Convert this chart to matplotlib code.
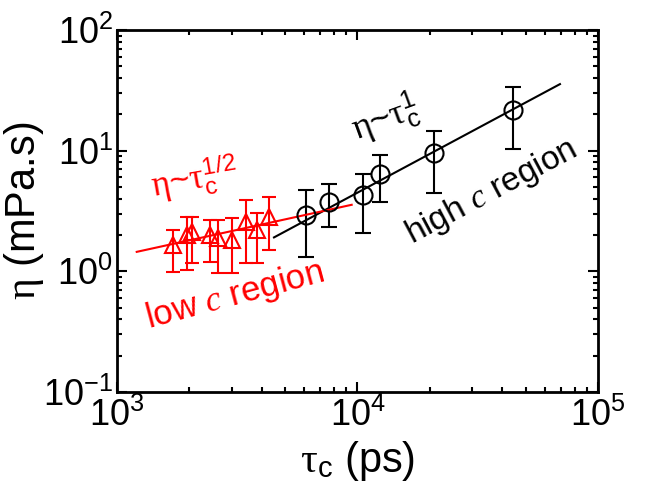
import math
import matplotlib
matplotlib.use("Agg")
import matplotlib.pyplot as plt
from matplotlib import ticker

plt.rcParams["font.family"] = ["Liberation Sans", "DejaVu Sans"]
plt.rcParams["mathtext.fontset"] = "custom"
plt.rcParams["mathtext.rm"] = "Liberation Serif"
plt.rcParams["mathtext.it"] = "Liberation Serif:italic"
plt.rcParams["mathtext.bf"] = "Liberation Serif:bold"

# ---- low c region (red triangles) ----
tau_low = [1704, 1949, 2045, 2436, 2623, 2999, 3439, 3832, 4298]
eta_low = [1.65, 2.00, 2.13, 2.00, 1.88, 1.82, 2.58, 2.20, 2.84]
eta_low_hi = [2.20, 2.84, 2.84, 2.66, 2.66, 2.75, 3.90, 3.02, 4.10]
eta_low_lo = [0.99, 1.03, 1.18, 1.20, 0.96, 0.97, 1.18, 1.18, 1.50]

# ---- high c region (black circles) ----
tau_high = [6108, 7612, 10571, 12406, 20800, 44440]
eta_high = [2.93, 3.77, 4.29, 6.40, 9.61, 21.7]
eta_high_hi = [4.72, 5.29, 6.40, 9.19, 14.6, 33.5]
eta_high_lo = [1.31, 2.31, 2.09, 3.73, 4.43, 10.25]

# ---- power law guide lines ----
fit_low_x = [1208, 9460]
fit_low_y = [1.45, 3.56]
fit_high_x = [4496, 69500]
fit_high_y = [1.91, 35.6]

fig = plt.figure(figsize=(6.67, 4.95), dpi=100)
ax = fig.add_axes([0.1754, 0.2081, 0.7211, 0.7313])


def errs(y, lo, hi):
    return [[a - b for a, b in zip(y, lo)], [b - a for a, b in zip(y, hi)]]


ax.plot(fit_high_x, fit_high_y, color="black", lw=1.5)
ax.errorbar(tau_high, eta_high, yerr=errs(eta_high, eta_high_lo, eta_high_hi),
            fmt="o", ms=13, mfc="none", mec="black", mew=1.5, color="black",
            ecolor="black", elinewidth=1.5, capsize=6, capthick=1.5)

ax.plot(fit_low_x, fit_low_y, color="red", lw=1.5)
ax.errorbar(tau_low, eta_low, yerr=errs(eta_low, eta_low_lo, eta_low_hi),
            fmt="^", ms=11, mfc="none", mec="red", mew=1.5, color="red",
            ecolor="red", elinewidth=1.5, capsize=5, capthick=1.5)

ax.set_xscale("log")
ax.set_yscale("log")
ax.set_xlim(1e3, 1e5)
ax.set_ylim(1e-1, 1e2)

fmt = ticker.FuncFormatter(lambda v, p: r"$\mathregular{10^{%d}}$" % round(math.log10(v)))
for axis in (ax.xaxis, ax.yaxis):
    axis.set_major_locator(ticker.LogLocator(base=10, numticks=10))
    axis.set_minor_locator(ticker.LogLocator(base=10, subs=range(2, 10), numticks=10))
    axis.set_major_formatter(fmt)
    axis.set_minor_formatter(ticker.NullFormatter())

ax.tick_params(which="both", direction="in", top=True, right=True, width=1.5,
               labelsize=26)
ax.tick_params(which="major", length=7)
ax.tick_params(which="minor", length=3.5)
ax.tick_params(axis="x", pad=4)
ax.tick_params(axis="y", pad=3)
for s in ax.spines.values():
    s.set_linewidth(2)

ax.set_xlabel(r"$\mathrm{\tau}_\mathregular{c}$ (ps)", fontsize=30, labelpad=4)
ax.set_ylabel(r"$\mathrm{\eta}$ (mPa.s)", fontsize=30, labelpad=-2)

ax.text(0.160, 0.591, r"$\mathrm{\eta}$~$\mathrm{\tau}_\mathregular{c}^\mathregular{1/2}$",
        transform=ax.transAxes, color="red", fontsize=25, rotation=10,
        ha="center", va="center")
ax.text(0.557, 0.757, r"$\mathrm{\eta}$~$\mathrm{\tau}_\mathregular{c}^\mathregular{1}$",
        transform=ax.transAxes, color="black", fontsize=26, rotation=20,
        ha="center", va="center")
ax.text(0.245, 0.268, r"low $\mathit{c}$ region", transform=ax.transAxes,
        color="red", fontsize=25, rotation=15, ha="center", va="center")
ax.text(0.778, 0.552, r"high $\mathit{c}$ region", transform=ax.transAxes,
        color="black", fontsize=24, rotation=28, ha="center", va="center")

fig.savefig("out.png", dpi=100)
